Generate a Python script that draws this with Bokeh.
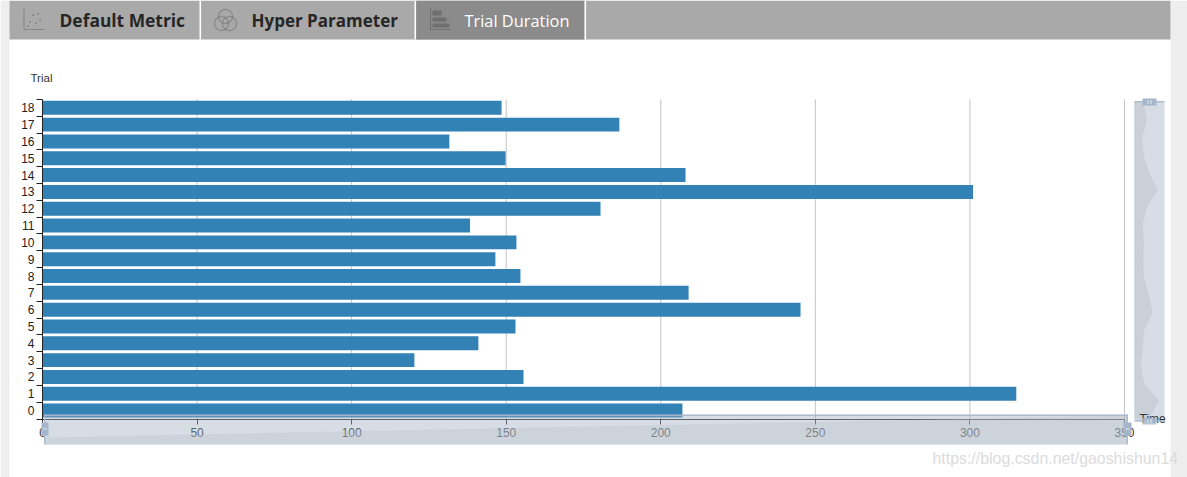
import numpy as np
from bokeh.embed import file_html
from bokeh.resources import INLINE
from bokeh.plotting import figure
from bokeh.models import (BoxAnnotation, PolyAnnotation, Label, FixedTicker, Range1d, ColumnDataSource)

# ---- data ----
trials = list(range(19))
durations = [207, 315, 155.6, 120.3, 141, 153, 245.2, 209, 154.6, 146.5,
             153.3, 138.3, 180.5, 301, 208, 149.8, 131.6, 186.6, 148.5]
x_ticks = [0, 50, 100, 150, 200, 250, 300, 350]
tab_names = ["Default Metric", "Hyper Parameter", "Trial Duration"]
y_name = "Trial"
x_name = "Time"
watermark = "https://blog.csdn.net/gaoshishun14"

FONT = "Liberation Sans"
TAB_FONT = "Open Sans"
W, H = 1187, 477

# the frame fills the canvas; the ranges place the plot area inside it
TOP, BOTTOM = 98.9, 418.5
PX_X = (1124 - 42) / 350
PX_Y = (BOTTOM - TOP) / 19
x_range = Range1d(-42 / PX_X, (W - 42) / PX_X)
y_range = Range1d(-0.5 - (H - BOTTOM) / PX_Y, 18.5 + TOP / PX_Y)

p = figure(width=W, height=H, output_backend="svg", toolbar_location=None,
           x_range=x_range, y_range=y_range,
           min_border=0, min_border_left=0, min_border_right=0, min_border_top=0, min_border_bottom=0)
p.outline_line_color = None
p.background_fill_color = "white"
p.border_fill_color = "white"
p.grid.visible = False

p.segment(x0=x_ticks[1:], x1=x_ticks[1:], y0=-0.5, y1=18.5, line_color="#c4c4c4", line_width=1)

src = ColumnDataSource(dict(y=trials, right=durations))
p.hbar(y="y", left=0, right="right", height=0.83, source=src, fill_color="#3282b5", line_color=None)

p.xaxis.fixed_location = -0.5
p.xaxis.bounds = (0, 350)
p.xaxis.ticker = FixedTicker(ticks=x_ticks)
p.xaxis.major_tick_in = 0
p.xaxis.major_tick_out = 5
p.xaxis.minor_tick_line_color = None
p.xaxis.axis_line_color = "#333333"
p.xaxis.major_tick_line_color = "#333333"
p.xaxis.major_label_text_font = FONT
p.xaxis.major_label_text_font_size = "12px"
p.xaxis.major_label_text_color = "#333333"
p.xaxis.major_label_standoff = 4

p.yaxis.fixed_location = 0
p.yaxis.bounds = (-0.5, 18.5)
p.yaxis.ticker = FixedTicker(ticks=trials, minor_ticks=[t - 0.5 for t in trials] + [18.5])
p.yaxis.major_tick_line_color = None
p.yaxis.major_tick_in = 0
p.yaxis.major_tick_out = 0
p.yaxis.minor_tick_in = 0
p.yaxis.minor_tick_out = 6
p.yaxis.minor_tick_line_color = "#222222"
p.yaxis.axis_line_color = "#222222"
p.yaxis.major_label_text_font = FONT
p.yaxis.major_label_text_font_size = "12px"
p.yaxis.major_label_text_color = "#222222"
p.yaxis.major_label_standoff = 2


def box(x0, y0, x1, y1, color, alpha=1.0):
    p.add_layout(BoxAnnotation(left=x0, right=x1, top=y0, bottom=y1,
                               left_units="canvas", right_units="canvas",
                               top_units="canvas", bottom_units="canvas",
                               fill_color=color, fill_alpha=alpha, line_color=None))


def poly(xs, ys, fill=None, alpha=1.0, line=None, lw=1.0):
    p.add_layout(PolyAnnotation(xs=[float(x) for x in xs], ys=[float(y) for y in ys],
                                xs_units="canvas", ys_units="canvas",
                                fill_color=fill, fill_alpha=alpha if fill else 0,
                                line_color=line, line_width=lw))


def label(x, y, text, font=FONT, size="12px", color="#333333", style="normal",
          align="left", baseline="middle"):
    p.add_layout(Label(x=x, y=y, x_units="canvas", y_units="canvas", text=text,
                       text_font=font, text_font_size=size, text_color=color, text_font_style=style,
                       text_align=align, text_baseline=baseline))


def circle(cx, cy, r, line):
    t = np.linspace(0, 2 * np.pi, 30)
    poly(cx + r * np.cos(t), cy + r * np.sin(t), line=line, lw=1.3)


# ---- page chrome: side strips and tab bar ----
box(0, 0, 9, H, "#eeeeee")
box(1170, 0, W, H, "#eeeeee")
box(9, 0, 1170, 39, "#a9a9a9")
box(415, 0, 584, 39, "#8b8b8b")
for sep in (199, 414, 584):
    box(sep, 0, sep + 1.6, 39, "white")

label(59, 19.5, tab_names[0], font=TAB_FONT, size="17.4px", color="#262626", style="bold")
label(251, 19.5, tab_names[1], font=TAB_FONT, size="17px", color="#262626", style="bold")
label(464, 19.5, tab_names[2], font=TAB_FONT, size="16.4px", color="white")

# tab icons
ic = "#666666"
poly([23.5, 23.5, 44, 23.5], [8, 29, 29, 29], line=ic)
for dx, dy in [(29, 21), (32, 14), (35, 22), (37, 13), (39, 19), (27, 25)]:
    box(dx, dy, dx + 1.2, dy + 1.2, ic)
circle(225, 16, 7, "#444444")
circle(221, 23, 7, "#444444")
circle(229, 23, 7, "#444444")
poly([430, 430, 450, 430], [8, 29, 29, 29], line="#555555")
box(432, 10, 441, 15, "#6f6f6f")
box(432, 17, 446, 21, "#6f6f6f")
box(432, 23, 449, 27, "#6f6f6f")

# ---- axis names ----
label(30, 77, y_name, size="11.5px", color="#333333")

# ---- bottom data zoom ----
ZOOM_BG = "#9aa9bf"
ZOOM_ALPHA = 0.4
box(44, 414, 1127, 444, ZOOM_BG, ZOOM_ALPHA)
poly([44, 44, 1127, 1127], [444, 437, 415, 444], fill="#b9c0c8", alpha=0.35)
box(43.5, 414, 1127, 415.5, "#a9b7cc", 0.9)
box(43.5, 414, 45, 444, "#a9b7cc", 0.9)
box(1126, 414, 1127.5, 444, "#a9b7cc", 0.9)
box(41, 422, 48, 435, "#a5b5cc")
box(1123, 422, 1131, 435, "#a5b5cc")
box(42.5, 428, 46.5, 429, "#e6ebf2")
box(1125, 428, 1129, 429, "#e6ebf2")

# ---- right data zoom: shadow follows the durations ----
box(1134, 101, 1164, 421, ZOOM_BG, ZOOM_ALPHA)
sy = [418 - t * 316 / 18 for t in trials]
sx = [1128.7 + 0.094 * d for d in durations]
poly([1134] + sx + [1134], [sy[0]] + sy + [sy[-1]], fill="#b9c0c8", alpha=0.45, line="#c0c7d2")
label(1139, 418, x_name, size="12px", color="#333333")
box(1134, 100.5, 1164, 102, "#a9b7cc", 0.9)
box(1134, 419.5, 1164, 421, "#a9b7cc", 0.9)
box(1142, 98, 1156, 105, "#a5b5cc")
box(1142, 417, 1156, 424, "#a5b5cc", 0.8)
box(1147, 99.5, 1148, 103.5, "#e6ebf2")
box(1150, 99.5, 1151, 103.5, "#e6ebf2")
box(1147, 418.5, 1148, 422.5, "#e6ebf2")
box(1150, 418.5, 1151, 422.5, "#e6ebf2")

# ---- watermark ----
label(932, 458, watermark, size="15.9px", color="#dcdcdc")

open("out.html", "w").write(file_html(p, INLINE))
